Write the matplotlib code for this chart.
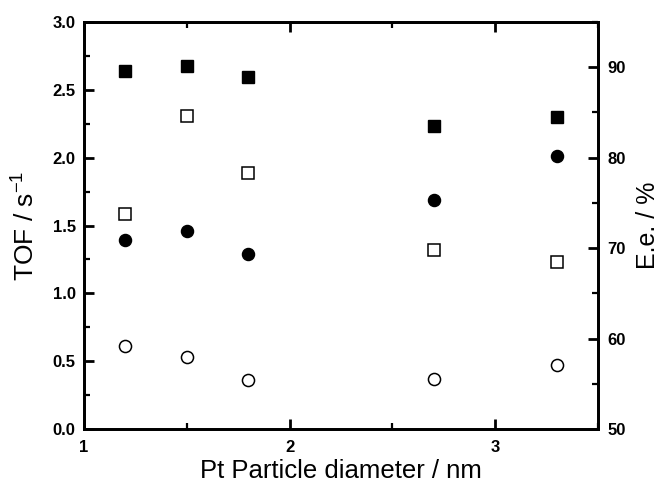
import matplotlib
matplotlib.use("Agg")
import matplotlib.pyplot as plt
from matplotlib.ticker import MultipleLocator

# Pt particle diameters (nm)
diameter = [1.2, 1.5, 1.8, 2.7, 3.3]

# left axis: TOF / s^-1
tof_filled = [1.39, 1.46, 1.29, 1.69, 2.01]
tof_open = [0.61, 0.53, 0.36, 0.37, 0.47]

# right axis: E.e. / %
ee_filled = [89.6, 90.1, 88.9, 83.5, 84.5]
ee_open = [73.8, 84.6, 78.3, 69.8, 68.5]

x_ticks = [1, 2, 3]
tof_ticks = [0.0, 0.5, 1.0, 1.5, 2.0, 2.5, 3.0]
ee_ticks = [50, 60, 70, 80, 90]

plt.rcParams['font.family'] = ['Liberation Sans', 'DejaVu Sans']
plt.rcParams['mathtext.default'] = 'regular'

fig = plt.figure(figsize=(6.63, 4.88), dpi=100)
ax = fig.add_axes([84 / 663, 59 / 488, 514 / 663, 407 / 488])
ax2 = ax.twinx()

ax.plot(diameter, tof_filled, 'o', color='black', markersize=8.7, linestyle='none')
ax.plot(diameter, tof_open, 'o', markerfacecolor='white', markeredgecolor='black',
        markeredgewidth=1.1, markersize=8.7, linestyle='none')
ax2.plot(diameter, ee_filled, 's', color='black', markersize=8.3, linestyle='none')
ax2.plot(diameter, ee_open, 's', markerfacecolor='white', markeredgecolor='black',
         markeredgewidth=1.1, markersize=8, linestyle='none')

ax.set_xlim(1, 3.5)
ax.set_ylim(0, 3.0)
ax2.set_ylim(50, 95)

tick_font = dict(family=['Liberation Sans Narrow', 'Liberation Sans'], weight='bold', size=12)
ax.set_xticks(x_ticks)
ax.set_xticklabels([str(v) for v in x_ticks], fontdict=tick_font)
ax.xaxis.set_minor_locator(MultipleLocator(0.5))
ax.set_yticks(tof_ticks)
ax.set_yticklabels(['%.1f' % v for v in tof_ticks], fontdict=tick_font)
ax.yaxis.set_minor_locator(MultipleLocator(0.25))
ax2.set_yticks(ee_ticks)
ax2.set_yticklabels([str(v) for v in ee_ticks], fontdict=tick_font)
ax2.yaxis.set_minor_locator(MultipleLocator(5))

ax.tick_params(axis='x', which='both', direction='in', top=True, pad=8)
ax.tick_params(axis='y', which='both', direction='in', right=False, pad=6)
ax.tick_params(which='major', length=7, width=2)
ax.tick_params(which='minor', length=4, width=1.6)
ax2.tick_params(axis='y', which='both', direction='in', pad=7)
ax2.tick_params(which='major', length=7, width=2)
ax2.tick_params(which='minor', length=4, width=1.6)

for a in (ax, ax2):
    for sp in a.spines.values():
        sp.set_linewidth(2)

ax.set_xlabel('Pt Particle diameter / nm', fontsize=18.5, labelpad=3)
ax.set_ylabel('TOF / s$^{-1}$', fontsize=19, labelpad=9)
ax2.set_ylabel('E.e. / %', fontsize=18, labelpad=7)

fig.savefig('out.png', dpi=100)
